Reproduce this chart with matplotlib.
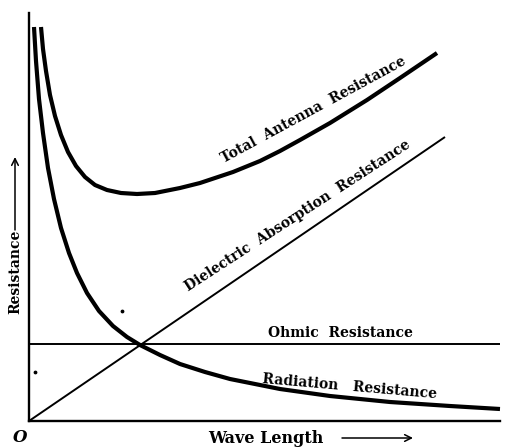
import matplotlib.pyplot as plt

plt.rcParams['font.family'] = ['DejaVu Serif']

rad_x = [5, 7, 10, 14, 19, 25, 32, 40, 48, 58, 70, 84, 98, 111, 131, 151, 176, 201, 251, 301, 361, 421, 471]
rad_y = [394, 360, 322, 288, 253, 222, 193, 168, 148, 128, 110, 95, 84, 76, 66, 57, 49, 42, 32, 25, 19, 15, 12]

tot_x = [12, 14, 17, 21, 26, 32, 39, 47, 56, 66, 78, 92, 108, 126, 151, 171, 204, 231, 251, 271, 301, 338, 371, 408]
tot_y = [394, 372, 350, 326, 305, 286, 269, 255, 244, 236, 231, 228, 227, 228, 233, 238, 249, 260, 270, 281, 298, 321, 343, 368]

diel_x = [0, 416]
diel_y = [0, 284]

ohm_x = [0, 471]
ohm_y = [77, 77]

# stray specks on the plate
speck_x = [6, 93]
speck_y = [49, 110]

fig = plt.figure(figsize=(5.06, 4.48), dpi=100)
ax = fig.add_axes([29 / 506, 27 / 448, 471 / 506, 408 / 448])
ax.set_xlim(0, 471)
ax.set_ylim(0, 408)
for s in ['top', 'right']:
    ax.spines[s].set_visible(False)
for s in ['left', 'bottom']:
    ax.spines[s].set_linewidth(1.7)
ax.set_xticks([])
ax.set_yticks([])

thick = dict(color='black', lw=3.0, solid_capstyle='butt', solid_joinstyle='round', clip_on=False)
thin = dict(color='black', lw=1.4, solid_capstyle='butt', clip_on=False)

ax.plot(rad_x, rad_y, **thick)
ax.plot(tot_x, tot_y, **thick)
ax.plot(diel_x, diel_y, **thin)
ax.plot(ohm_x, ohm_y, **thin)
ax.scatter(speck_x, speck_y, s=3, color='black')

lab = dict(fontsize=10, fontweight='bold', ha='center', va='center')
ax.text(284, 311, 'Total  Antenna  Resistance', rotation=28.5, **lab)
ax.text(269, 205, 'Dielectric  Absorption  Resistance', rotation=33, **lab)
ax.text(311, 88, 'Ohmic  Resistance', **lab)
ax.text(321, 34, 'Radiation   Resistance', rotation=-5, **lab)

# axis names with their arrows
fig.text(15 / 506, 1 - 272 / 448, 'Resistance', rotation=90,
         fontsize=10, fontweight='bold', ha='center', va='center')
fig.text(266 / 506, 1 - 438 / 448, 'Wave Length',
         fontsize=11.5, fontweight='bold', ha='center', va='center')
arrow = dict(arrowstyle='->', color='black', lw=1.1, mutation_scale=12,
             shrinkA=0, shrinkB=0)
fig.add_artist(plt.Annotation('', xy=(15 / 506, 1 - 157 / 448), xytext=(15 / 506, 1 - 230 / 448),
                              xycoords='figure fraction', arrowprops=arrow))
fig.add_artist(plt.Annotation('', xy=(413 / 506, 1 - 438 / 448), xytext=(342 / 506, 1 - 438 / 448),
                              xycoords='figure fraction', arrowprops=arrow))
fig.text(20 / 506, 1 - 437 / 448, 'O', fontsize=12, fontweight='bold',
         style='italic', ha='center', va='center')

fig.savefig('out.png', dpi=100)
